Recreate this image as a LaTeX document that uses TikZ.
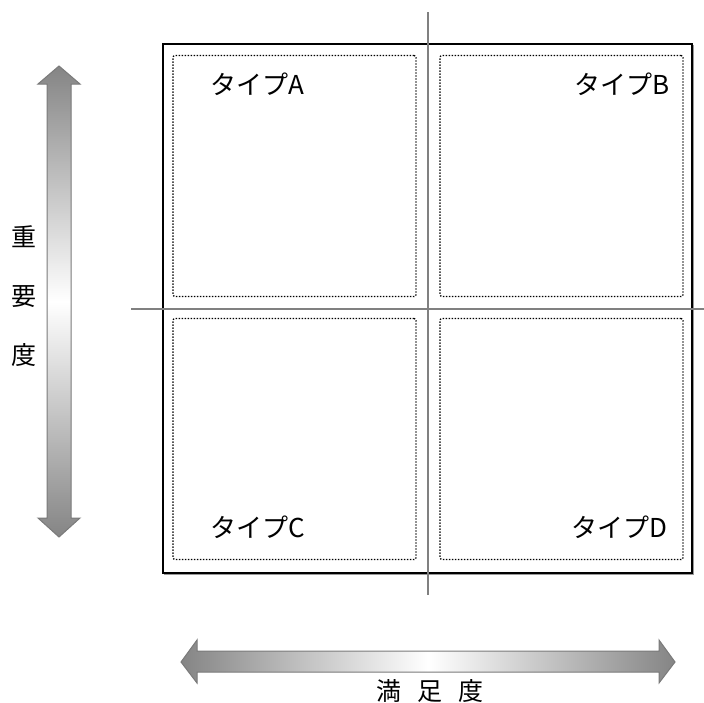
\documentclass[tikz,border=0pt]{standalone}
\usepackage{fontspec}
\newfontfamily\jpfont{Noto Sans CJK JP}
\usetikzlibrary{positioning}

\begin{document}
\begin{tikzpicture}[
                x=1pt, y=-1pt,
                font=\jpfont,
                frame/.style={rectangle, draw=black, line width=1.6pt, minimum width=529pt, minimum height=529pt, inner sep=0pt},
                shade/.style={rectangle, draw=black!40, line width=1.6pt, minimum width=529pt, minimum height=529pt, inner sep=0pt},
                quad/.style={rectangle, draw=black, line width=1.3pt, dash pattern=on 1.4pt off 1.6pt, rounded corners=2pt, minimum width=243pt, minimum height=241pt, inner sep=0pt},
                axis/.style={draw=black!50, line width=2pt},
                lbl/.style={font=\jpfont\fontsize{26}{30}\selectfont, inner sep=0pt},
                ttl/.style={font=\jpfont\fontsize{25}{59}\selectfont, inner sep=0pt, align=center},
                garr/.style={draw=black!52, line width=1pt},
            ]
            \useasboundingbox (0,0) rectangle (704,702);

            % matrix frame and quadrants
            \node[shade] (frms) at (429,310) {};
            \node[frame, fill=white] (frm) at (427.5,308.5) {};
            \node[quad] (qa) at (294.5,176) {};
            \node[quad] (qb) at (561.5,176) {};
            \node[quad] (qc) at (294.5,439) {};
            \node[quad] (qd) at (561.5,439) {};
            \draw[axis] (428,12) -- (428,595);
            \draw[axis] (131,309) -- (704,309);

            \node[lbl, anchor=west] (ta) at (210,84) {タイプA};
            \node[lbl, anchor=east] (tb) at (670,84) {タイプB};
            \node[lbl, anchor=west] (tc) at (210,527) {タイプC};
            \node[lbl, anchor=east] (td) at (668,527) {タイプD};

            % shaded double arrows
            \path[garr, top color=black!48, bottom color=black!48, middle color=white]
                (59,66) -- (80,84) -- (71,84) -- (71,518) -- (80,518) -- (59,537)
                -- (38,518) -- (47,518) -- (47,84) -- (38,84) -- cycle;
            \path[garr, left color=black!48, right color=black!48, middle color=white]
                (181,662) -- (197,640) -- (197,651) -- (659,651) -- (659,640) -- (675,662)
                -- (659,683) -- (659,672) -- (197,672) -- (197,683) -- cycle;

            \node[ttl] (imp) at (24,296) {重\\要\\度};
            \node[ttl, anchor=north] (sat) at (430,679) {満\hspace{0.65em}足\hspace{0.65em}度};
        \end{tikzpicture}
\end{document}
